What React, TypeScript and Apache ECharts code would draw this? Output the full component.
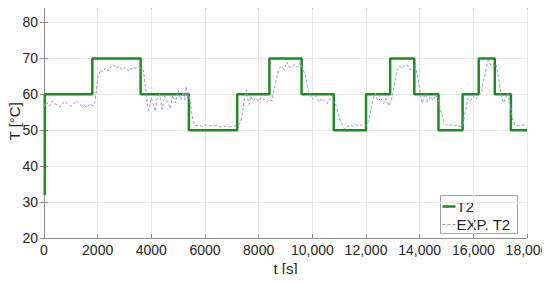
import React, { useEffect, useRef } from "react";
import * as echarts from "echarts";

// Setpoint T2: step changes
const t2StartValue = 32;
const t2Times = [0, 1800, 3600, 5400, 7200, 8400, 9600, 10800, 12000, 12900, 13800, 14700, 15600, 16200, 16800, 17400, 18000];
const t2Levels = [60, 70, 60, 50, 60, 70, 60, 50, 60, 70, 60, 50, 60, 70, 60, 50];

const expTimes = [
  0, 100, 200, 300, 400, 500, 600, 700, 800, 900, 1000, 1100, 1200, 1300, 1400, 1500, 1600, 1700, 1800, 1900,
  1950, 2000, 2100, 2200, 2300, 2400, 2500, 2600, 2700, 2800, 2900, 3000, 3100, 3200, 3300, 3400, 3500, 3600, 3700,
  3750, 3800, 3850, 3900, 3950, 4000, 4100, 4150, 4200, 4300, 4350, 4400, 4500, 4600, 4700, 4800, 4900, 5000,
  5100, 5200, 5250, 5300, 5350, 5400, 5450, 5500, 5550, 5650, 5800, 5900, 6000, 6200, 6400, 6600, 6800, 7000,
  7200, 7300, 7400, 7450, 7550, 7600, 7650, 7700, 7800, 7900, 8000, 8100, 8200, 8300, 8400, 8500, 8550, 8650,
  8750, 8850, 8950, 9050, 9150, 9250, 9350, 9450, 9550, 9650, 9750, 9850, 9950, 10050, 10150, 10250, 10350,
  10450, 10550, 10650, 10750, 10850, 10950, 11050, 11150, 11200, 11300, 11400, 11500, 11600, 11700, 11800,
  11900, 12000, 12100, 12200, 12300, 12350, 12450, 12550, 12650, 12750, 12850, 12950, 13050, 13150, 13250,
  13350, 13450, 13550, 13650, 13750, 13850, 13950, 14050, 14100, 14200, 14300, 14400, 14500, 14600, 14700,
  14800, 14900, 15000, 15100, 15200, 15300, 15400, 15500, 15600, 15700, 15800, 15900, 16000, 16100, 16200,
  16300, 16400, 16550, 16700, 16850, 16950, 17050, 17120, 17200, 17280, 17380, 17450, 17540, 17700, 17850, 18000,
];
const expValues = [
  56.5, 57.8, 56.6, 58.1, 57.4, 57.0, 56.4, 57.6, 57.9, 57.1, 56.6, 57.3, 58.2, 57.5, 56.8, 57.0, 56.2, 57.4, 56.8, 58.0,
  61.0, 64.5, 66.8, 66.2, 67.4, 66.5, 67.8, 68.2, 67.3, 67.9, 66.8, 67.6, 67.0, 66.4, 67.5, 67.2, 67.6, 67.4, 66.8,
  64.0, 60.5, 57.5, 55.5, 57.0, 59.0, 56.5, 55.2, 58.5, 60.0, 58.0, 55.8, 59.5, 58.2, 56.0, 59.8, 57.6, 61.2,
  58.4, 60.5, 58.5, 62.2, 59.0, 60.5, 57.5, 55.0, 52.5, 51.2, 51.4, 51.0, 51.5, 51.2, 51.3, 50.9, 51.2, 51.0,
  51.3, 51.8, 54.5, 58.0, 61.2, 58.5, 57.2, 59.5, 58.2, 59.0, 58.0, 59.2, 58.6, 57.8, 58.5, 58.2, 60.5, 64.0,
  67.0, 67.8, 66.9, 69.0, 67.5, 67.8, 68.4, 67.6, 68.8, 67.0, 65.0, 61.0, 59.2, 58.5, 59.6, 57.8, 58.9,
  58.2, 57.4, 58.8, 58.0, 57.6, 55.0, 52.5, 51.2, 50.3, 51.0, 51.5, 51.1, 51.6, 51.2, 51.5,
  51.0, 51.3, 52.5, 56.5, 59.5, 60.3, 58.0, 59.0, 57.4, 58.8, 56.8, 58.5, 62.5, 66.5, 67.8,
  67.2, 68.3, 68.0, 66.8, 67.0, 67.5, 64.0, 59.0, 57.5, 60.2, 58.0, 59.5, 58.3, 59.8, 58.5,
  55.0, 52.5, 51.5, 51.2, 51.6, 51.3, 51.4, 51.0, 51.4, 55.0, 59.0, 58.3, 59.5, 58.6, 59.8,
  60.5, 64.5, 69.5, 67.4, 68.2, 64.0, 59.4, 57.6, 59.0, 60.4, 57.0, 53.5, 51.5, 51.2, 51.5, 51.3,
];

const xTickMin = 0;
const xTickMax = 18000;
const xTickStep = 2000;
const yTickMin = 20;
const yTickMax = 85;
const yTickStep = 10;

const FONT = "Liberation Sans";
const TEXT = "#262626";
const GREEN = "#1f8a1f";
const BLUE = "#8e9be6";

function fmtX(v: number): string {
  if (v >= 10000) {
    const s = String(Math.round(v));
    return s.slice(0, s.length - 3) + "," + s.slice(s.length - 3);
  }
  return String(v);
}

export default function App() {
  const ref = useRef<HTMLDivElement>(null);
  useEffect(() => {
    if (!ref.current) return;
    const chart = echarts.init(ref.current, undefined, { renderer: "svg" });

    const t2Data: number[][] = [[30, t2StartValue], [30, t2Levels[0]]];
    for (let i = 0; i < t2Levels.length; i++) {
      t2Data.push([t2Times[i] === 0 ? 30 : t2Times[i], t2Levels[i]]);
      t2Data.push([t2Times[i + 1], t2Levels[i]]);
    }
    const expData = expTimes.map((t, i) => [t, expValues[i]]);

    const frameAxisLine = { show: true, lineStyle: { color: "#8c8c8c", width: 1 } };
    const split = { show: true, lineStyle: { color: "#e8e8e8", width: 1 } };
    const tick = { show: true, inside: true, length: 4, lineStyle: { color: "#8c8c8c" } };

    // legend box drawn as graphic
    const lx = 440;
    const ly = 195;
    const lw = 77;
    const lh = 38;

    chart.setOption({
      animation: false,
      backgroundColor: "#ffffff",
      textStyle: { fontFamily: FONT },
      grid: { left: 44, right: 23, top: 4.5, bottom: 44, containLabel: false, outerBoundsMode: "none" },
      xAxis: [
        {
          type: "value",
          min: xTickMin,
          max: xTickMax,
          interval: xTickStep,
          name: "t [s]",
          nameLocation: "middle",
          nameGap: 23,
          nameMoveOverlap: false,
          nameTextStyle: { fontFamily: FONT, fontSize: 15, color: TEXT },
          axisLine: frameAxisLine,
          axisTick: tick,
          axisLabel: { fontFamily: FONT, fontSize: 14, color: TEXT, margin: 5, formatter: (v: number) => fmtX(v) },
          splitLine: split,
        },
        {
          type: "value",
          position: "top",
          min: xTickMin,
          max: xTickMax,
          interval: xTickStep,
          axisLine: frameAxisLine,
          axisTick: tick,
          axisLabel: { show: false },
          splitLine: { show: false },
        },
      ],
      yAxis: [
        {
          type: "value",
          min: yTickMin,
          max: yTickMax,
          interval: yTickStep,
          name: "T [°C]",
          nameLocation: "middle",
          nameGap: 22,
          nameMoveOverlap: false,
          nameTextStyle: { fontFamily: FONT, fontSize: 15, color: TEXT },
          axisLine: frameAxisLine,
          axisTick: tick,
          axisLabel: {
            fontFamily: FONT,
            fontSize: 14,
            color: TEXT,
            margin: 6,
            showMaxLabel: false,
            formatter: (v: number) => (v % 10 === 0 ? String(v) : ""),
          },
          splitLine: split,
        },
        {
          type: "value",
          position: "right",
          min: yTickMin,
          max: yTickMax,
          interval: yTickStep,
          axisLine: frameAxisLine,
          axisTick: tick,
          axisLabel: { show: false },
          splitLine: { show: false },
        },
      ],
      graphic: [
        {
          type: "group",
          left: lx,
          top: ly,
          z: 100,
          children: [
            {
              type: "rect",
              shape: { x: 0, y: 0, width: lw, height: lh },
              style: { fill: "#ffffff", stroke: "#a0a0a0", lineWidth: 1 },
            },
            {
              type: "line",
              shape: { x1: 2, y1: 11, x2: 15, y2: 11 },
              style: { stroke: GREEN, lineWidth: 2.5 },
            },
            {
              type: "text",
              x: 16,
              y: 11,
              style: { text: "T2", font: `15px "${FONT}"`, fill: TEXT, verticalAlign: "middle" },
            },
            {
              type: "line",
              shape: { x1: 2, y1: 29, x2: 15, y2: 29 },
              style: { stroke: BLUE, lineWidth: 1, lineDash: [3, 2] },
            },
            {
              type: "text",
              x: 16,
              y: 29,
              style: { text: "EXP. T2", font: `15px "${FONT}"`, fill: TEXT, verticalAlign: "middle" },
            },
          ],
        },
      ],
      series: [
        {
          name: "T2",
          type: "line",
          data: t2Data,
          showSymbol: false,
          symbol: "none",
          lineStyle: { color: GREEN, width: 2.5 },
          itemStyle: { color: GREEN },
          z: 3,
        },
        {
          name: "EXP. T2",
          type: "line",
          data: expData,
          showSymbol: false,
          symbol: "none",
          lineStyle: { color: BLUE, width: 1, type: [3, 2] },
          itemStyle: { color: BLUE },
          z: 4,
        },
      ],
    });
    return () => chart.dispose();
  }, []);
  return <div ref={ref} style={{ width: 550, height: 282, margin: -8 }} />;
}
